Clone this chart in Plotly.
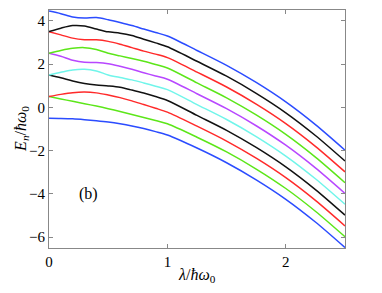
import plotly.graph_objects as go

lam = [0, 0.1, 0.2, 0.3, 0.4, 0.5, 0.6, 0.7, 0.8, 0.9, 1.0, 1.25, 1.5, 1.75, 2.0, 2.25, 2.5]

E0 = [-0.5, -0.51, -0.53, -0.57, -0.62, -0.68, -0.76, -0.86, -0.98, -1.12, -1.28, -1.88, -2.56, -3.35, -4.25, -5.3, -6.48]
E1 = [0.5, 0.39, 0.28, 0.17, 0.06, -0.06, -0.19, -0.33, -0.47, -0.61, -0.76, -1.38, -2.06, -2.85, -3.75, -4.8, -5.98]
E2 = [0.5, 0.6, 0.68, 0.71, 0.67, 0.57, 0.45, 0.3, 0.13, -0.04, -0.22, -0.87, -1.56, -2.35, -3.25, -4.3, -5.48]
E3 = [1.5, 1.37, 1.22, 1.1, 1.03, 0.99, 0.93, 0.8, 0.66, 0.5, 0.32, -0.37, -1.06, -1.85, -2.75, -3.8, -4.98]
E4 = [1.5, 1.62, 1.73, 1.76, 1.68, 1.5, 1.38, 1.27, 1.13, 0.98, 0.82, 0.13, -0.56, -1.35, -2.25, -3.3, -4.48]
E5 = [2.5, 2.36, 2.18, 2.08, 2.07, 2.02, 1.9, 1.76, 1.6, 1.45, 1.3, 0.63, -0.06, -0.85, -1.75, -2.8, -3.98]
E6 = [2.5, 2.63, 2.73, 2.76, 2.67, 2.5, 2.38, 2.26, 2.13, 1.98, 1.82, 1.13, 0.44, -0.35, -1.25, -2.3, -3.48]
E7 = [3.5, 3.35, 3.2, 3.13, 3.12, 3.05, 2.92, 2.76, 2.6, 2.46, 2.3, 1.63, 0.94, 0.15, -0.75, -1.8, -2.98]
E8 = [3.5, 3.66, 3.78, 3.76, 3.62, 3.49, 3.43, 3.32, 3.15, 2.98, 2.8, 2.13, 1.44, 0.65, -0.25, -1.3, -2.48]
E9 = [4.45, 4.33, 4.18, 4.13, 4.15, 4.05, 3.92, 3.78, 3.62, 3.46, 3.3, 2.63, 1.94, 1.15, 0.25, -0.8, -1.98]

levels = [E0, E1, E2, E3, E4, E5, E6, E7, E8, E9]
colors = ["#2b4cff", "#5ce619", "#ff2a2a", "#111111", "#70f5ea",
          "#b847ff", "#5ce619", "#ff2a2a", "#111111", "#2b4cff"]

xticks = [0, 1, 2]
yticks = [-6, -4, -2, 0, 2, 4]

fig = go.Figure()
for E, c in zip(levels, colors):
    fig.add_trace(go.Scatter(x=lam, y=E, mode="lines",
                             line=dict(color=c, width=1.5, shape="spline", smoothing=0.8),
                             showlegend=False, hoverinfo="skip"))

axis_common = dict(showgrid=False, zeroline=False, showline=True, linecolor="#888888",
                   linewidth=1, mirror="ticks", ticks="inside", ticklen=4,
                   tickcolor="#888888", automargin=False,
                   tickfont=dict(family="Liberation Serif", size=15, color="black"))

fig.update_xaxes(range=[0, 2.5], tickvals=xticks, ticktext=[str(v) for v in xticks],
                 **axis_common)
fig.update_yaxes(range=[-6.5, 4.5], tickvals=yticks,
                 ticktext=[("\u2212" + str(-v)) if v < 0 else str(v) for v in yticks],
                 **axis_common)

title_font = dict(family="Liberation Serif", size=16, color="black")
fig.add_annotation(x=0.5, y=-0.115, xref="paper", yref="paper",
                   text="<i>λ</i>/<i>ħω</i><sub>0</sub>", showarrow=False,
                   font=title_font, xanchor="center", yanchor="middle")
fig.add_annotation(x=-0.095, y=0.5, xref="paper", yref="paper",
                   text="<i>E</i><sub><i>n</i></sub>/<i>ħω</i><sub>0</sub>", showarrow=False,
                   font=title_font, textangle=-90, xanchor="center", yanchor="middle")

fig.add_annotation(x=0.33, y=-4, xref="x", yref="y", text="(b)", showarrow=False,
                   font=dict(family="Liberation Serif", size=16, color="black"))

fig.update_layout(width=374, height=285, margin=dict(l=41, r=37, t=2, b=45),
                  plot_bgcolor="white", paper_bgcolor="white")

fig.write_html("out.html")
